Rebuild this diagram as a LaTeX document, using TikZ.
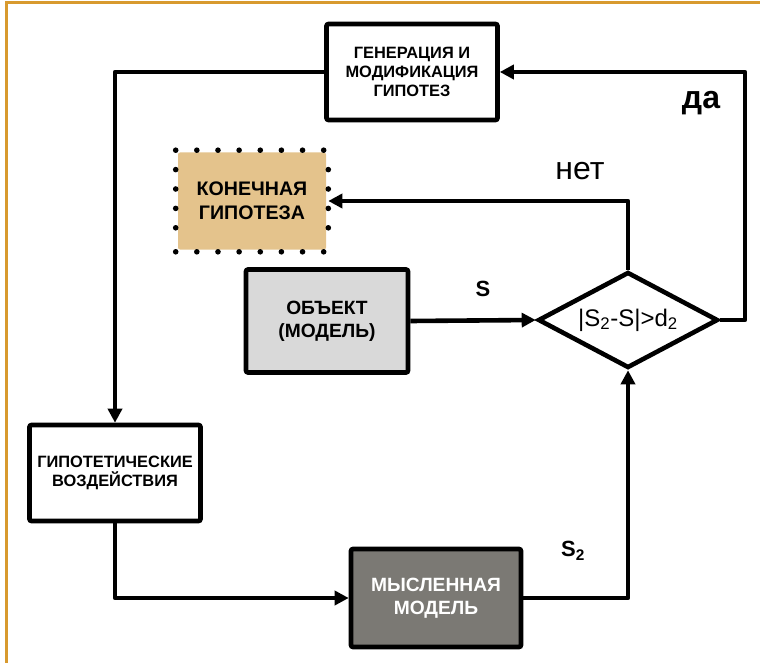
\documentclass[tikz,border=0pt]{standalone}
\usepackage{fontspec}
\setmainfont{Liberation Sans}
\usepackage{xcolor}
\usetikzlibrary{shapes.geometric, positioning, arrows.meta}

\definecolor{frameorange}{HTML}{D89A2E}
\definecolor{hypfill}{HTML}{E4C38C}
\definecolor{objfill}{HTML}{D9D9D9}
\definecolor{mindfill}{HTML}{7B7974}

\begin{document}
\begin{tikzpicture}[
    x=1pt, y=-1pt,
    line width=4.6pt,
    block/.style={rectangle, draw, minimum width=171pt, minimum height=96pt, rounded corners=2pt, align=center, font=\bfseries\fontsize{16.4}{19}\selectfont, inner sep=2pt},
    bigblock/.style={block, minimum width=162pt, minimum height=103pt, font=\bfseries\fontsize{19.2}{23}\selectfont},
    check/.style={diamond, draw, aspect=1.85, minimum width=180pt, minimum height=96pt, inner sep=0pt, font=\fontsize{24}{26}\selectfont},
    arr/.style={-{Triangle[length=14pt, width=14pt]}, line join=round},
    sig/.style={font=\bfseries\fontsize{22}{24}\selectfont}
]
    \useasboundingbox (0,0) rectangle (760,663);
    % Frame
    \draw[frameorange, line width=3pt] (6,663) -- (6,3) -- (760,3);

    % Blocks
    \node[block] (gen) at (412,72) {ГЕНЕРАЦИЯ И\\МОДИФИКАЦИЯ\\ГИПОТЕЗ};
    \node[bigblock, draw=none, fill=hypfill, minimum width=148pt, minimum height=97pt, font=\bfseries\fontsize{19.6}{23.5}\selectfont] (final) at (252,201) {КОНЕЧНАЯ\\ГИПОТЕЗА};
    \node[bigblock, fill=objfill] (obj) at (327,321) {ОБЪЕКТ\\(МОДЕЛЬ)};
    \node[check] (cmp) at (628,320) {|S\textsubscript{2}-S|>d\textsubscript{2}};
    \node[block] (act) at (115,473) {ГИПОТЕТИЧЕСКИЕ\\ВОЗДЕЙСТВИЯ};
    \node[bigblock, fill=mindfill, text=white, minimum width=170pt, minimum height=98pt] (mind) at (436,598) {МЫСЛЕННАЯ\\МОДЕЛЬ};
    \coordinate (back) at (745,320);

    % Dotted border of the final hypothesis
    \foreach \i in {0,...,7} {
        \fill (final.north west) ++(\i*21.14,0) circle (2.8pt);
        \fill (final.south west) ++(\i*21.14,0) circle (2.8pt);
    }
    \foreach \i in {1,...,4} {
        \fill (final.north west) ++(0,\i*19.4) circle (2.8pt);
        \fill (final.north east) ++(0,\i*19.4) circle (2.8pt);
    }

    % Connections
    \draw[arr] (gen.west) -| (act.north);
    \draw[arr] (act.south) |- (mind.west);
    \draw[arr] (mind.east) -| (cmp.south);
    \draw[arr] (obj.east) -- (cmp.west);
    \draw[arr] (cmp.north) |- (final.east);
    \draw[arr] (cmp.east) -- (back) |- (gen.east);

    % Labels
    \node[font=\fontsize{32}{34}\selectfont] (no) at (580,171) {нет};
    \node[font=\bfseries\fontsize{32}{34}\selectfont] (yes) at (701,103) {да};
    \node[sig] (s) at (483,289) {S};
    \node[sig] (s2) at (573,551) {S\textsubscript{2}};
\end{tikzpicture}
\end{document}
